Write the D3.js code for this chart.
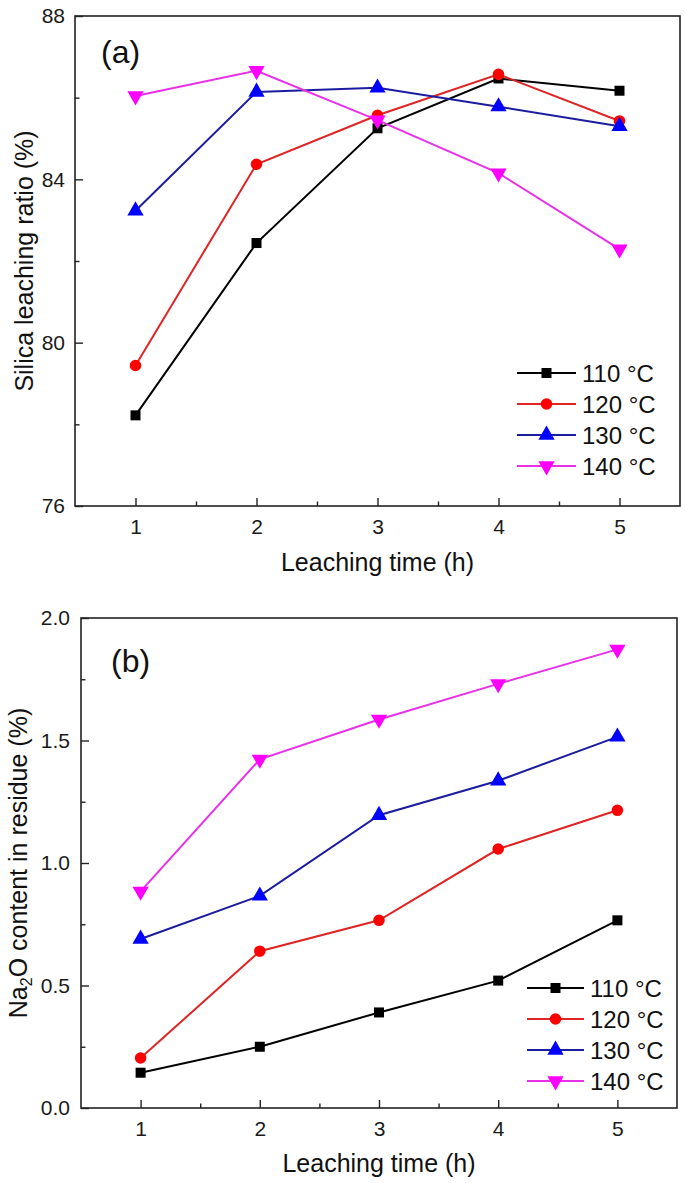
<!DOCTYPE html>
<html>
<head>
<meta charset="utf-8">
<script src="https://cdn.jsdelivr.net/npm/d3@7"></script>
<style>
  html, body { margin: 0; padding: 0; background: #fff; }
  svg { display: block; font-family: "Liberation Sans", Arial, sans-serif; }
</style>
</head>
<body>
<svg id="chart" width="685" height="1183"></svg>
<script>
// ---- Data ----
const times = [1, 2, 3, 4, 5];
const seriesNames = ["110 °C", "120 °C", "130 °C", "140 °C"];
const silica110 = [78.22, 82.44, 85.25, 86.47, 86.17];
const silica120 = [79.44, 84.37, 85.57, 86.57, 85.43];
const silica130 = [83.23, 86.14, 86.24, 85.78, 85.30];
const silica140 = [86.04, 86.66, 85.45, 84.15, 82.29];
const na2o110 = [0.144, 0.25, 0.39, 0.52, 0.766];
const na2o120 = [0.204, 0.64, 0.766, 1.057, 1.215];
const na2o130 = [0.69, 0.866, 1.195, 1.336, 1.515];
const na2o140 = [0.884, 1.423, 1.586, 1.731, 1.872];
const yTicksA = [76, 80, 84, 88];
const yMinorA = [78, 82, 86];
const yTicksB = [0.0, 0.5, 1.0, 1.5, 2.0];
const yMinorB = [0.25, 0.75, 1.25, 1.75];
const xMinor = [1.5, 2.5, 3.5, 4.5];

// ---- Styles ----
const FONT = '"Liberation Sans", Arial, sans-serif';
const lineColors = ["#000000", "#e02424", "#1c1ca0", "#e830e8"];
const markColors = ["#000000", "#ff0000", "#0000ff", "#ff00ff"];
const symbols = [
  { type: d3.symbolSquare, size: 100, rot: 0 },
  { type: d3.symbolCircle, size: 105, rot: 0 },
  { type: d3.symbolTriangle, size: 115, rot: 0 },
  { type: d3.symbolTriangle, size: 115, rot: 180 }
];

const svg = d3.select("#chart");

function styleAxis(sel) {
  sel.attr("font-family", FONT).attr("font-size", 21);
  sel.select(".domain").remove();
  sel.selectAll(".tick line").attr("stroke", "#222").attr("stroke-width", 1.4);
  sel.selectAll(".tick text").attr("font-size", 21).attr("fill", "#1a1a1a");
}

function drawPanel(cfg) {
  const x = d3.scaleLinear().domain([0.5, 5.5]).range([cfg.left, cfg.right]);
  const y = d3.scaleLinear().domain(cfg.yDomain).range([cfg.bottom, cfg.top]);
  const g = svg.append("g");

  // frame
  g.append("rect")
    .attr("x", cfg.left).attr("y", cfg.top)
    .attr("width", cfg.right - cfg.left).attr("height", cfg.bottom - cfg.top)
    .attr("fill", "none").attr("stroke", "#222").attr("stroke-width", 1.6);

  // x axis (ticks inward)
  const xAxis = d3.axisBottom(x).tickValues(times).tickSize(-8).tickPadding(13)
    .tickFormat(d3.format("d"));
  g.append("g").attr("transform", `translate(0,${cfg.bottom})`).call(xAxis).call(styleAxis);
  const xm = d3.axisBottom(x).tickValues(xMinor).tickSize(-4.5).tickFormat("");
  g.append("g").attr("transform", `translate(0,${cfg.bottom})`).call(xm).call(styleAxis);

  // y axis (ticks inward)
  const yAxis = d3.axisLeft(y).tickValues(cfg.yTicks).tickSize(-8).tickPadding(cfg.yPad)
    .tickFormat(cfg.yFormat);
  g.append("g").attr("transform", `translate(${cfg.left},0)`).call(yAxis).call(styleAxis);
  const ym = d3.axisLeft(y).tickValues(cfg.yMinor).tickSize(-4.5).tickFormat("");
  g.append("g").attr("transform", `translate(${cfg.left},0)`).call(ym).call(styleAxis);

  // x title
  g.append("text")
    .attr("x", (cfg.left + cfg.right) / 2).attr("y", cfg.xTitleY)
    .attr("text-anchor", "middle").attr("font-size", 25).attr("fill", "#111")
    .text("Leaching time (h)");

  // y title
  const yt = g.append("text")
    .attr("transform", `translate(${cfg.yTitleX},${(cfg.top + cfg.bottom) / 2}) rotate(-90)`)
    .attr("text-anchor", "middle").attr("font-size", 25).attr("fill", "#111");
  cfg.yTitle(yt);

  // panel label
  g.append("text")
    .attr("x", cfg.labelX).attr("y", cfg.labelY)
    .attr("font-size", 32).attr("fill", "#111")
    .text(cfg.label);

  // series
  const line = d3.line().x((d, i) => x(times[i])).y(d => y(d));
  cfg.series.forEach((vals, si) => {
    g.append("path").datum(vals)
      .attr("d", line).attr("fill", "none")
      .attr("stroke", lineColors[si]).attr("stroke-width", 2);
  });
  cfg.series.forEach((vals, si) => {
    const sym = symbols[si];
    g.selectAll(null).data(vals).enter().append("path")
      .attr("d", d3.symbol().type(sym.type).size(sym.size))
      .attr("transform", (d, i) => `translate(${x(times[i])},${y(d)}) rotate(${sym.rot})`)
      .attr("fill", markColors[si]);
  });

  // legend
  seriesNames.forEach((name, si) => {
    const cy = cfg.legendY + si * cfg.legendStep;
    g.append("line")
      .attr("x1", cfg.legendX1).attr("x2", cfg.legendX2)
      .attr("y1", cy).attr("y2", cy)
      .attr("stroke", lineColors[si]).attr("stroke-width", 2);
    const sym = symbols[si];
    g.append("path")
      .attr("d", d3.symbol().type(sym.type).size(sym.size))
      .attr("transform", `translate(${(cfg.legendX1 + cfg.legendX2) / 2},${cy}) rotate(${sym.rot})`)
      .attr("fill", markColors[si]);
    g.append("text")
      .attr("x", cfg.legendX2 + 6).attr("y", cy + 8.5)
      .attr("font-size", 24).attr("fill", "#111")
      .text(name);
  });
}

drawPanel({
  left: 75, right: 680, top: 16, bottom: 506,
  yDomain: [76, 88], yTicks: yTicksA, yMinor: yMinorA, yFormat: d3.format("d"), yPad: 10,
  xTitleY: 571, yTitleX: 33,
  yTitle: t => t.text("Silica leaching ratio (%)"),
  label: "(a)", labelX: 101, labelY: 63,
  series: [silica110, silica120, silica130, silica140],
  legendX1: 517, legendX2: 576, legendY: 373, legendStep: 31
});

drawPanel({
  left: 81, right: 677, top: 618, bottom: 1108,
  yDomain: [0, 2], yTicks: yTicksB, yMinor: yMinorB, yFormat: d3.format(".1f"), yPad: 11,
  xTitleY: 1172, yTitleX: 27,
  yTitle: t => {
    t.append("tspan").text("Na");
    t.append("tspan").attr("font-size", 16).attr("dy", 5).text("2");
    t.append("tspan").attr("dy", -5).text("O content in residue (%)");
  },
  label: "(b)", labelX: 111, labelY: 672,
  series: [na2o110, na2o120, na2o130, na2o140],
  legendX1: 527, legendX2: 584, legendY: 988, legendStep: 31
});
</script>
</body>
</html>
